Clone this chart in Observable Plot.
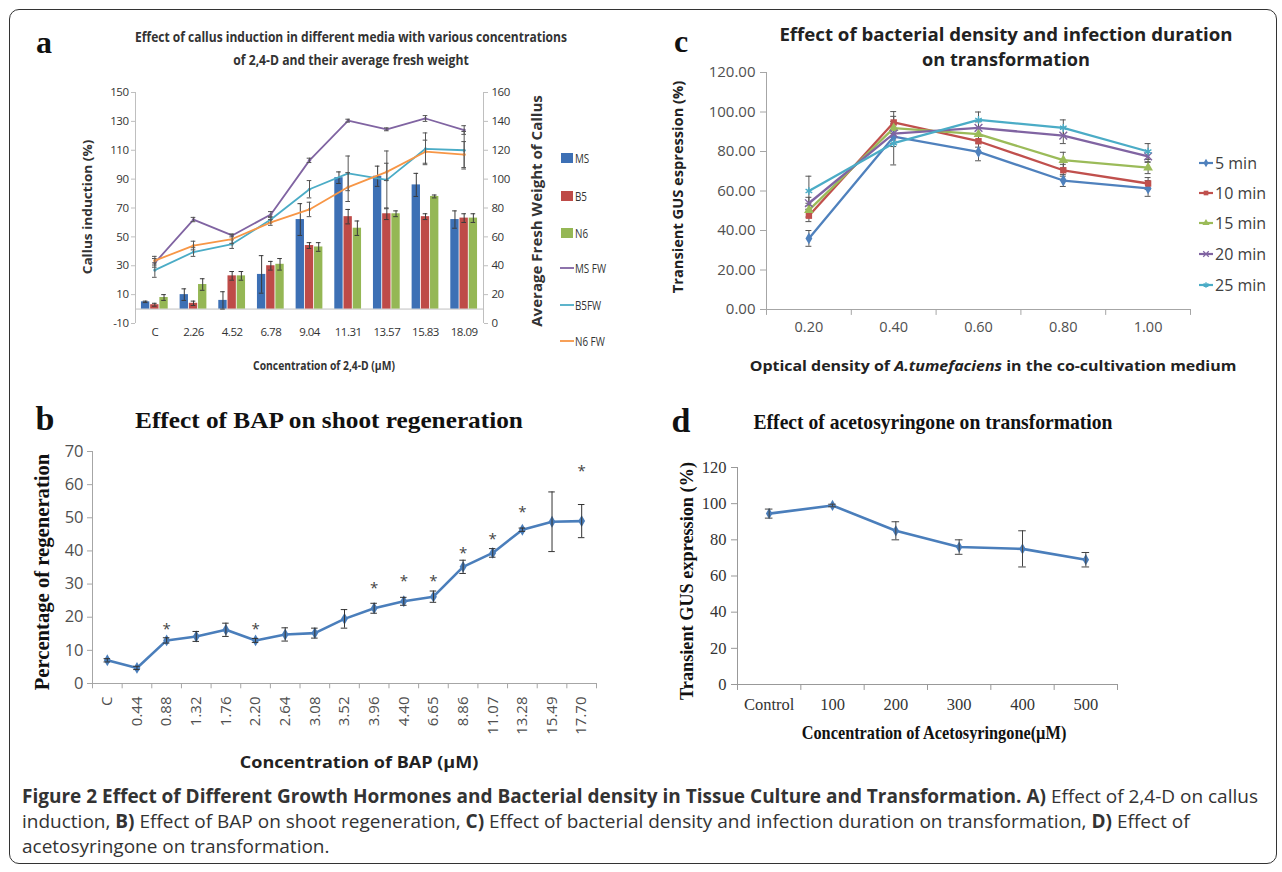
<!DOCTYPE html>
<html><head><meta charset="utf-8">
<script src="https://cdn.jsdelivr.net/npm/d3@7"></script>
<script src="https://cdn.jsdelivr.net/npm/@observablehq/plot@0.6"></script>
<style>
body{margin:0;background:#fff;}
#root{position:relative;width:1282px;height:872px;overflow:hidden;background:#fff;}
.frame{position:absolute;left:9px;top:9px;width:1268px;height:855px;border:1.5px solid #333;border-radius:10px;box-sizing:border-box;}
.leg{position:absolute;display:flex;align-items:center;white-space:nowrap;}
</style></head>
<body><div id="root"><div class="frame"></div></div>
<script>
// ---------- DATA ----------
// Panel a: callus induction (%) and average fresh weight
const catsA = ["C","2.26","4.52","6.78","9.04","11.31","13.57","15.83","18.09"];
const msInd = [5,10,6,24,62,91,92,86,62];
const msIndErr = [0.5,4,6,13,11,4,7,8,6];
const b5Ind = [3,4,23,30,44,64,66,64,63];
const b5IndErr = [1,1.5,3,3,2,5,4,2,3];
const n6Ind = [8,17,23,31,43,56,66,78,63];
const n6IndErr = [2,4,3,4,3,5,2,1,3];
const msFW = [42,72,61,75.5,113,140.5,134.5,142,134];
const msFWErr = [3,1.5,1,2,1.5,1,1,2,3];
const b5FW = [37,49.5,55,72,93,104,99.5,121,120];
const b5FWErr = [5,3,3,2,6,12,20,11,13];
const n6FW = [43.5,54,58.5,70,79,94.5,105,119,117];
const n6FWErr = [3,3,3,2,5,10,6,8,9];
const ticksLeftA = [-10,10,30,50,70,90,110,130,150];
const ticksRightA = [0,20,40,60,80,100,120,140,160];

// Panel b: BAP shoot regeneration
const catsB = ["C","0.44","0.88","1.32","1.76","2.20","2.64","3.08","3.52","3.96","4.40","6.65","8.86","11.07","13.28","15.49","17.70"];
const regB = [7,4.7,13,14.2,16.2,13,14.8,15.2,19.5,22.7,24.8,26.2,35.2,39.4,46.4,48.8,49];
const regErrB = [0.5,0.5,0.8,1.5,2,0.6,2,1.5,2.8,1.5,1.2,1.7,2,1.3,0.5,9,5];
const starCatsB = ["0.88","2.20","3.96","4.40","6.65","8.86","11.07","13.28","17.70"];
const starYB = [17.5,17.5,30,32,32,40.5,44.7,52.8,65.2];

// Panel c: bacterial density x infection duration
const odC = ["0.20","0.40","0.60","0.80","1.00"];
const durC = ["5 min","10 min","15 min","20 min","25 min"];
const gus5 = [36,87.5,79.8,65.3,61.3];
const gus10 = [47.5,94.7,85.2,70.5,63.8];
const gus15 = [50.3,91.8,88.8,75.6,71.8];
const gus20 = [53.8,89,92,88,77.5];
const gus25 = [60,84.2,96,92,80];
const err5 = [4,5,4.5,3,4];
const err10 = [3,5.5,3,3,3];
const err15 = [3.5,6,3,4,3];
const err20 = [3,5,3,4,3];
const err25 = [7.5,11,4,4,4];

// Panel d: acetosyringone
const acetoD = ["Control","100","200","300","400","500"];
const gusD = [94.5,99,85,76,75,69];
const gusErrD = [2.5,0.7,5,4,10,4];

// ---------- HELPERS ----------
const root = document.getElementById("root");
function addSvg(svg, left, top){
  svg.style.position = "absolute"; svg.style.left = left + "px"; svg.style.top = top + "px";
  root.appendChild(svg);
}
function label(html, o){
  const d = document.createElement("div");
  d.innerHTML = html;
  Object.assign(d.style, {position:"absolute", left:o.x+"px", top:o.y+"px",
    fontFamily:o.family||"'Open Sans'", fontSize:(o.size||14)+"px", fontWeight:o.weight||"normal",
    color:o.color||"#222", whiteSpace:"nowrap", lineHeight:"1.25"});
  root.appendChild(d);
  const w = d.offsetWidth;
  const s = o.scale != null ? o.scale : (o.fit ? o.fit / w : 1);
  const mid = (o.anchor||"middle") === "middle";
  d.style.transformOrigin = mid ? "50% 50%" : "0 50%";
  d.style.transform = `translate(${mid?"-50%":"0"},-50%) rotate(${o.rotate||0}deg) scaleX(${s})`;
  return s;
}
function errMarks(rows, {x, cap, stroke="#333", sw=1}){
  const X = typeof x === "function" ? x : (r => r[x]);
  return [
    Plot.ruleX(rows, {x:X, y1:r=>r.v-r.e, y2:r=>r.v+r.e, stroke, strokeWidth:sw}),
    Plot.ruleY(rows, {y:r=>r.v+r.e, x1:r=>X(r)-cap, x2:r=>X(r)+cap, stroke, strokeWidth:sw}),
    Plot.ruleY(rows, {y:r=>r.v-r.e, x1:r=>X(r)-cap, x2:r=>X(r)+cap, stroke, strokeWidth:sw})
  ];
}
function swatchSvg(color, kind, symbol){
  const ns = "http://www.w3.org/2000/svg";
  const s = document.createElementNS(ns, "svg");
  s.setAttribute("width", 16); s.setAttribute("height", 12);
  if (kind === "rect"){
    const r = document.createElementNS(ns, "rect");
    r.setAttribute("x", 2); r.setAttribute("y", 1); r.setAttribute("width", 12); r.setAttribute("height", 10);
    r.setAttribute("fill", color); s.appendChild(r);
  } else {
    const l = document.createElementNS(ns, "line");
    l.setAttribute("x1", 1); l.setAttribute("x2", 15); l.setAttribute("y1", 6); l.setAttribute("y2", 6);
    l.setAttribute("stroke", color); l.setAttribute("stroke-width", kind === "lineM" ? 2.2 : 1.8); s.appendChild(l);
    if (symbol){
      const p = document.createElementNS(ns, "path");
      p.setAttribute("d", d3.symbol(symbol, 22)());
      p.setAttribute("transform", "translate(8,6)");
      if (symbol === d3.symbolTimes || symbol === d3.symbolAsterisk){ p.setAttribute("stroke", color); p.setAttribute("fill","none"); p.setAttribute("stroke-width",1.3); }
      else p.setAttribute("fill", color);
      s.appendChild(p);
    }
  }
  return s;
}
function legendItem(x, y, color, kind, text, o={}){
  const d = document.createElement("div");
  d.className = "leg";
  Object.assign(d.style, {left:x+"px", top:(y-8)+"px", height:"16px", fontFamily:o.family||"'Open Sans'", fontSize:(o.size||11)+"px", color:o.color||"#333"});
  d.appendChild(swatchSvg(color, kind, o.symbol));
  const t = document.createElement("span"); t.textContent = text;
  t.style.display = "inline-block"; t.style.transformOrigin = "0 50%";
  if (o.sx) t.style.transform = `scaleX(${o.sx})`;
  t.style.marginLeft = (o.gap||0) + "px";
  d.appendChild(t);
  root.appendChild(d);
}

// ---------- PANEL A ----------
{
  const barSeries = [
    {name:"MS", vals:msInd, errs:msIndErr, color:"#3d70b5", off:-0.238},
    {name:"B5", vals:b5Ind, errs:b5IndErr, color:"#be4b48", off:0},
    {name:"N6", vals:n6Ind, errs:n6IndErr, color:"#95b755", off:0.238}
  ];
  const lineSeries = [
    {name:"MS FW", vals:msFW, errs:msFWErr, color:"#8064a2"},
    {name:"B5FW", vals:b5FW, errs:b5FWErr, color:"#4bacc6"},
    {name:"N6 FW", vals:n6FW, errs:n6FWErr, color:"#f79646"}
  ];
  const hw = 0.108;
  const marks = [
    Plot.ruleY([0], {x1:-0.5, x2:8.5, stroke:"#bfbfbf"}),
    Plot.ruleX([-0.5, 8.5], {y1:-10, y2:150, stroke:"#bfbfbf"}),
    Plot.axisY({ticks:ticksLeftA, anchor:"left", tickFormat:d=>String(d), tickSize:4, tickPadding:3, stroke:"#bfbfbf", fill:"#333", fontSize:11.5, label:null}),
    Plot.axisY({ticks:ticksLeftA, anchor:"right", tickFormat:d=>String(ticksRightA[ticksLeftA.indexOf(d)]), tickSize:4, tickPadding:4, stroke:"#bfbfbf", fill:"#333", fontSize:11.5, label:null}),
    Plot.axisX({ticks:d3.range(catsA.length), tickFormat:i=>catsA[i], tickSize:0, tickPadding:4, fill:"#333", fontSize:11.5, label:null})
  ];
  for (const s of barSeries){
    const rows = s.vals.map((v,i)=>({i, v, e:s.errs[i]}));
    marks.push(Plot.rectY(rows, {x1:r=>r.i+s.off-hw, x2:r=>r.i+s.off+hw, y1:0, y2:"v", fill:s.color}));
    marks.push(...errMarks(rows, {x:r=>r.i+s.off, cap:0.06, stroke:"#3a3a3a"}));
  }
  for (const s of lineSeries){
    // right axis (fresh weight) shares the pixel range: right value r sits at left value r - 10
    const rows = s.vals.map((v,i)=>({i, v:v - 10, e:s.errs[i]}));
    marks.push(Plot.line(rows, {x:"i", y:"v", stroke:s.color, strokeWidth:1.8}));
    marks.push(Plot.dot(rows, {x:"i", y:"v", r:1.6, fill:s.color}));
    marks.push(...errMarks(rows, {x:"i", cap:0.06, stroke:"#555"}));
  }
  const svg = Plot.plot({
    width:540, height:300, marginLeft:115, marginRight:77, marginTop:12, marginBottom:57,
    x:{domain:[-0.5, 8.5]}, y:{domain:[-10,150], label:null},
    style:{fontFamily:"'Open Sans'", background:"transparent", overflow:"visible", letterSpacing:"-0.5px"},
    marks
  });
  addSvg(svg, 20, 80);

  label("a", {x:44, y:42, family:"'Liberation Serif'", size:32, weight:"bold", color:"#111"});
  label("Effect of callus induction in different media with various concentrations", {x:351, y:36, size:15, weight:"bold", fit:432, color:"#333"});
  label("of 2,4-D and their average fresh weight", {x:351, y:59, size:15, weight:"bold", fit:235, color:"#333"});
  label("Callus induction (%)", {x:88, y:207, size:12.5, weight:"bold", fit:135, rotate:-90, color:"#333"});
  label("Average Fresh Weight of Callus", {x:537, y:211, size:13.5, weight:"bold", fit:232, rotate:-90, color:"#333"});
  label("Concentration of 2,4-D (µM)", {x:324, y:366, size:12.5, weight:"bold", fit:142, color:"#333"});
  const ys = [158,196,233,268,305,341];
  barSeries.forEach((s,k)=>legendItem(559, ys[k], s.color, "rect", s.name, {size:12, sx:0.82, color:"#333"}));
  lineSeries.forEach((s,k)=>legendItem(559, ys[k+3], s.color, "line", s.name, {size:12, sx:0.82, color:"#333"}));
}

// ---------- PANEL B ----------
{
  const rows = catsB.map((c,i)=>({i, v:regB[i], e:regErrB[i]}));
  const stars = starCatsB.map((c,k)=>({i:catsB.indexOf(c), y:starYB[k]}));
  const svg = Plot.plot({
    width:600, height:330, marginLeft:72, marginRight:24, marginTop:11, marginBottom:87,
    x:{domain:[-0.5, catsB.length-0.5]}, y:{domain:[0,70], label:null},
    style:{fontFamily:"'Open Sans'", background:"transparent", overflow:"visible"},
    marks:[
      Plot.ruleX([-0.5], {y1:0, y2:70, stroke:"#a6a6a6"}),
      Plot.ruleY([0], {x1:-0.5, x2:catsB.length-0.5, stroke:"#a6a6a6"}),
      Plot.ruleX(d3.range(catsB.length+1).map(k=>k-0.5), {y1:0, y2:-1.6, stroke:"#a6a6a6"}),
      Plot.axisY({ticks:d3.range(0,71,10), tickSize:5, tickPadding:4, stroke:"#a6a6a6", fill:"#505050", fontSize:16.5, label:null}),
      Plot.axisX({ticks:d3.range(catsB.length), tickFormat:i=>catsB[i], tickRotate:-90, tickSize:0, tickPadding:13, fill:"#505050", fontSize:15, label:null}),
      Plot.line(rows, {x:"i", y:"v", stroke:"#4a7ebb", strokeWidth:2.6}),
      Plot.dot(rows, {x:"i", y:"v", symbol:"diamond", r:3.6, fill:"#4a7ebb"}),
      ...errMarks(rows, {x:"i", cap:0.11, stroke:"#333"}),
      Plot.text(stars, {x:"i", y:"y", text:()=>"*", fontSize:15, fill:"#444", dy:4})
    ]
  });
  addSvg(svg, 20, 440);
  label("b", {x:45, y:419, family:"'Liberation Serif'", size:34, weight:"bold", color:"#111"});
  label("Effect of BAP on shoot regeneration", {x:329, y:421, family:"'Liberation Serif'", size:23, weight:"bold", fit:388, color:"#111"});
  label("Percentage of regeneration", {x:42, y:572, family:"'Liberation Serif'", size:21, weight:"bold", fit:237, rotate:-90, color:"#111"});
  label("Concentration of BAP (µM)", {x:359, y:762, size:16.5, weight:"bold", fit:238, color:"#222"});
}

// ---------- PANEL C ----------
{
  const series = [
    {vals:gus5, errs:err5, color:"#4f81bd", symbol:"diamond", d3s:d3.symbolDiamond},
    {vals:gus10, errs:err10, color:"#c0504d", symbol:"square", d3s:d3.symbolSquare},
    {vals:gus15, errs:err15, color:"#9bbb59", symbol:"triangle", d3s:d3.symbolTriangle},
    {vals:gus20, errs:err20, color:"#8064a2", symbol:"times", d3s:d3.symbolTimes},
    {vals:gus25, errs:err25, color:"#4bacc6", symbol:"asterisk", d3s:d3.symbolAsterisk}
  ];
  const marks = [
    Plot.ruleX([-0.5], {y1:0, y2:120, stroke:"#a6a6a6"}),
    Plot.ruleY([0], {x1:-0.5, x2:odC.length-0.5, stroke:"#a6a6a6"}),
    Plot.ruleX(d3.range(odC.length+1).map(k=>k-0.5), {y1:0, y2:-3, stroke:"#a6a6a6"}),
    Plot.axisY({ticks:d3.range(0,121,20), tickFormat:d=>d.toFixed(2), tickSize:6, tickPadding:5, stroke:"#a6a6a6", fill:"#505050", fontSize:15, label:null}),
    Plot.axisX({ticks:d3.range(odC.length), tickFormat:i=>odC[i], tickSize:0, tickPadding:12, fill:"#505050", fontSize:14.5, label:null})
  ];
  for (const s of series){
    const rows = s.vals.map((v,i)=>({i, v, e:s.errs[i]}));
    marks.push(...errMarks(rows, {x:"i", cap:0.035, stroke:"#555"}));
  }
  for (const s of series){
    const rows = s.vals.map((v,i)=>({i, v}));
    marks.push(Plot.line(rows, {x:"i", y:"v", stroke:s.color, strokeWidth:2.3}));
    const hollow = s.symbol === "times" || s.symbol === "asterisk";
    marks.push(Plot.dot(rows, {x:"i", y:"v", symbol:s.symbol, r:3.6, fill:hollow?"none":s.color, stroke:hollow?s.color:"none", strokeWidth:1.4}));
  }
  const svg = Plot.plot({
    width:520, height:320, marginLeft:86, marginRight:10, marginTop:12, marginBottom:71,
    x:{domain:[-0.5, odC.length-0.5]}, y:{domain:[0,120], label:null},
    symbol:{type:"identity"},
    style:{fontFamily:"'Open Sans'", background:"transparent", overflow:"visible"},
    marks
  });
  addSvg(svg, 680, 60);
  label("c", {x:681, y:41, family:"'Liberation Serif'", size:32, weight:"bold", color:"#111"});
  label("Effect of bacterial density and infection duration", {x:1006, y:35, size:17.5, weight:"bold", fit:453, color:"#222"});
  label("on transformation", {x:1006, y:60, size:17.5, weight:"bold", fit:168, color:"#222"});
  label("Transient GUS espression (%)", {x:678, y:187, size:14.5, weight:"bold", fit:212, rotate:-90, color:"#222"});
  label("Optical density of <i>A.tumefaciens</i> in the co-cultivation medium", {x:993, y:366, size:14.5, weight:"bold", fit:487, color:"#222"});
  const ys = [163,193,223,254,285];
  series.forEach((s,k)=>legendItem(1198, ys[k], s.color, "lineM", durC[k], {size:16, color:"#404040", symbol:s.d3s, gap:1}));
}

// ---------- PANEL D ----------
{
  const rows = acetoD.map((c,i)=>({i, v:gusD[i], e:gusErrD[i]}));
  const svg = Plot.plot({
    width:520, height:320, marginLeft:57, marginRight:83, marginTop:27, marginBottom:76,
    x:{domain:[-0.5, acetoD.length-0.5]}, y:{domain:[0,120], label:null},
    style:{fontFamily:"'Liberation Serif'", background:"transparent", overflow:"visible"},
    marks:[
      Plot.ruleX([-0.5], {y1:0, y2:120, stroke:"#999"}),
      Plot.ruleY([0], {x1:-0.5, x2:acetoD.length-0.5, stroke:"#999"}),
      Plot.ruleX(d3.range(acetoD.length+1).map(k=>k-0.5), {y1:0, y2:-3.3, stroke:"#999"}),
      Plot.axisY({ticks:d3.range(0,121,20), tickSize:6, tickPadding:5, stroke:"#999", fill:"#333", fontSize:16.5, label:null}),
      Plot.axisX({ticks:d3.range(acetoD.length), tickFormat:i=>acetoD[i], tickSize:0, tickPadding:14, fill:"#333", fontSize:16.5, label:null}),
      Plot.line(rows, {x:"i", y:"v", stroke:"#4a7ebb", strokeWidth:2.6}),
      Plot.dot(rows, {x:"i", y:"v", symbol:"diamond", r:3.4, fill:"#4a7ebb"}),
      ...errMarks(rows, {x:"i", cap:0.06, stroke:"#444"})
    ]
  });
  addSvg(svg, 680, 440);
  label("d", {x:681, y:421, family:"'Liberation Serif'", size:34, weight:"bold", color:"#111"});
  label("Effect of acetosyringone on transformation", {x:933, y:422, family:"'Liberation Serif'", size:21, weight:"bold", fit:359, color:"#111"});
  label("Transient GUS expression (%)", {x:687, y:581, family:"'Liberation Serif'", size:19, weight:"bold", fit:238, rotate:-90, color:"#111"});
  label("Concentration of Acetosyringone(µM)", {x:934, y:733, family:"'Liberation Serif'", size:19, weight:"bold", fit:265, color:"#111"});
}

// ---------- CAPTION ----------
{
  const s = label("<b>Figure 2 Effect of Different Growth Hormones and Bacterial density in Tissue Culture and Transformation. A)</b> Effect of 2,4-D on callus",
    {x:22, y:797, size:19, anchor:"start", fit:1236, color:"#333"});
  label("induction, <b>B)</b> Effect of BAP on shoot regeneration, <b>C)</b> Effect of bacterial density and infection duration on transformation, <b>D)</b> Effect of",
    {x:22, y:822, size:19, anchor:"start", scale:s, color:"#333"});
  label("acetosyringone on transformation.", {x:22, y:847, size:19, anchor:"start", scale:s, color:"#333"});
}
</script>
</body></html>
